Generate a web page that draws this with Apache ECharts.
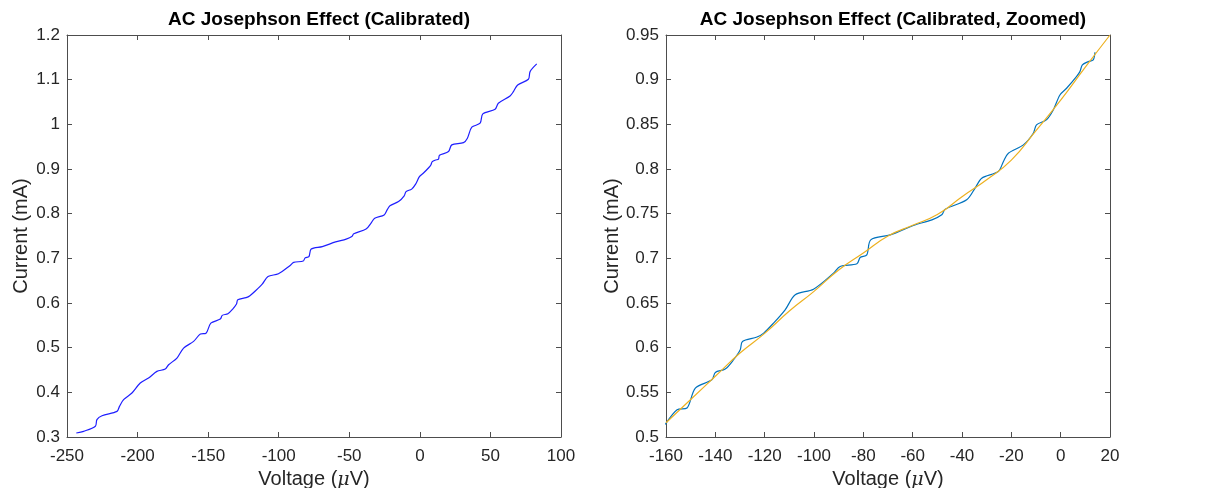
<!DOCTYPE html>
<html>
<head>
<meta charset="utf-8">
<script src="https://cdn.jsdelivr.net/npm/echarts@6/dist/echarts.min.js"></script>
<style>html,body{margin:0;padding:0;background:#fff}#c{width:1206px;height:488px}</style>
</head>
<body>
<div id="c"></div>
<script>
// Measured voltage (µV) and current (mA)
const voltage = [-243.4,-238.2,-229.9,-228.8,-225.2,-214.6,-212.8,-209.9,-204,-198.1,-192.2,-186.3,-180.4,-178,-172.1,-167.4,
  -160.3,-155.5,-151.5,-148.1,-141.4,-140,-136,-132.6,-129.9,-129,-123.1,-120.4,-116.4,-111.7,-107.6,-100.2,-92.1,-89.4,-82.6,-81.3,-78.6,-77,
  -69.1,-59.7,-52.2,-48.2,-46.8,-38.1,-34.7,-32,-25.3,-23.2,-21.2,-15.1,-11.1,-9.8,-5.8,-3,-0.3,2.4,6.4,7.8,8.8,11.2,13.2,13.9,
  20.3,22.6,30.9,33.7,36.8,42.7,44.6,53.3,55.6,63.9,66.3,69.3,76.9,78.1,82.8];
const current = [0.3089,0.3127,0.3239,0.3388,0.3477,0.3574,0.3686,0.3835,0.3984,0.4208,0.432,0.4469,0.4521,0.4618,0.4767,0.4991,
  0.514,0.5306,0.5324,0.5548,0.564,0.5723,0.576,0.5865,0.5977,0.607,0.6119,0.6163,0.6275,0.6424,0.6592,0.6655,0.6834,0.6909,0.6939,0.701,0.7039,0.7207,
  0.7263,0.7368,0.7431,0.7487,0.755,0.7655,0.7785,0.7897,0.7972,0.8084,0.8177,0.827,0.84,0.8494,0.855,0.8661,0.8829,0.8904,0.9034,0.909,0.9165,0.9202,0.9221,0.9307,
  0.939,0.954,0.959,0.969,0.9935,1.0025,1.0233,1.0338,1.0472,1.0636,1.0733,1.0882,1.1009,1.118,1.1352];
// Zoomed window range (µV)
const zoomRange = [-161, 14];
// Fitted curve
const fitVoltage = [-160,-150,-140,-130,-120,-110,-100,-90,-80,-70,-60,-50,-40,-30,-20,-10,0,10,20];
const fitCurrent = [0.516,0.542,0.568,0.594,0.616,0.641,0.663,0.687,0.706,0.725,0.737,0.749,0.769,0.788,0.810,0.843,0.877,0.914,0.95];

const titles = ['AC Josephson Effect (Calibrated)', 'AC Josephson Effect (Calibrated, Zoomed)'];

const full = voltage.map((v,i)=>[v,current[i]]);
const zoomed = full.filter(p=>p[0]>=zoomRange[0] && p[0]<=zoomRange[1]);
const fit = fitVoltage.map((v,i)=>[v,fitCurrent[i]]);

const FONT = 'Liberation Sans, Arial, Helvetica, sans-serif';
const txt = '#262626';
const axc = '#4d4d4d';

function mkX(grid, min, max, interval, pos){
  const main = pos==='bottom';
  return {
    type:'value', gridIndex:grid, position:pos, min, max, interval,
    name: main ? 'Voltage ({i|μ}V)' : '', nameLocation:'middle', nameGap:29,
    nameTextStyle:{fontFamily:FONT,fontSize:20,color:txt,rich:{i:{fontStyle:'italic',fontFamily:'DejaVu Serif',fontSize:19,color:txt}}},
    axisLine:{show:true,onZero:false,lineStyle:{color:axc,width:1}},
    axisTick:{show:true,inside:true,length:5,lineStyle:{color:axc}},
    axisLabel:{show:main,fontFamily:FONT,fontSize:17,color:txt,margin:11},
    splitLine:{show:false}
  };
}
function mkY(grid, min, max, interval, pos, gap){
  const main = pos==='left';
  return {
    type:'value', gridIndex:grid, position:pos, min, max, interval,
    name: main ? 'Current (mA)' : '', nameLocation:'middle', nameGap:gap,
    nameTextStyle:{fontFamily:FONT,fontSize:20,color:txt},
    axisLine:{show:true,onZero:false,lineStyle:{color:axc,width:1}},
    axisTick:{show:true,inside:true,length:5,lineStyle:{color:axc}},
    axisLabel:{show:main,fontFamily:FONT,fontSize:17,color:txt,margin:7,
      formatter:v=>String(+v.toFixed(2))},
    splitLine:{show:false}
  };
}

const chart = echarts.init(document.getElementById('c'), null, {renderer:'canvas'});
chart.setOption({
  backgroundColor:'#fff',
  animation:false,
  title:[
    {text:titles[0],left:314,top:5,textAlign:'center',textStyle:{fontFamily:FONT,fontSize:19,fontWeight:'bold',color:'#000'}},
    {text:titles[1],left:888,top:5,textAlign:'center',textStyle:{fontFamily:FONT,fontSize:19,fontWeight:'bold',color:'#000'}}
  ],
  grid:[
    {left:67,top:35,width:494,height:402,outerBoundsMode:'none'},
    {left:666,top:35,width:444,height:402,outerBoundsMode:'none'}
  ],
  xAxis:[
    mkX(0,-250,100,50,'bottom'), mkX(0,-250,100,50,'top'),
    mkX(1,-160,20,20,'bottom'), mkX(1,-160,20,20,'top')
  ],
  yAxis:[
    mkY(0,0.3,1.2,0.1,'left',36), mkY(0,0.3,1.2,0.1,'right',0),
    mkY(1,0.5,0.95,0.05,'left',42), mkY(1,0.5,0.95,0.05,'right',0)
  ],
  series:[
    {type:'line',xAxisIndex:0,yAxisIndex:0,data:full,showSymbol:false,smooth:0.3,
      lineStyle:{color:'#1f1fff',width:1.2}},
    {type:'line',xAxisIndex:2,yAxisIndex:2,data:zoomed,showSymbol:false,smooth:0.3,clip:true,
      lineStyle:{color:'#0072BD',width:1.2}},
    {type:'line',xAxisIndex:2,yAxisIndex:2,data:fit,showSymbol:false,smooth:true,clip:true,
      lineStyle:{color:'#EDB120',width:1.2}}
  ]
});
</script>
</body>
</html>
